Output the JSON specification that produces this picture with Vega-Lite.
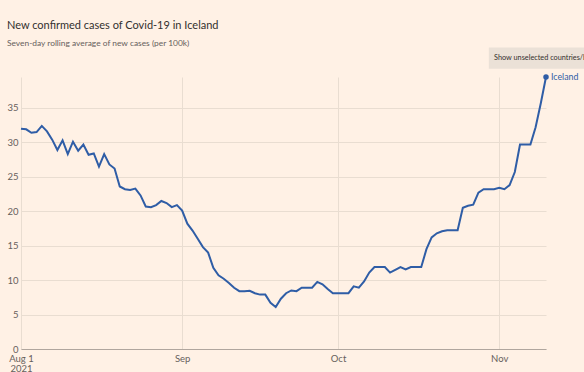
{
  "$schema": "https://vega.github.io/schema/vega-lite/v6.json",
  "width": 525,
  "height": 272,
  "autosize": "none",
  "padding": {"left": 21, "top": 77, "right": 38, "bottom": 23},
  "background": "#fff1e5",
  "title": {
    "text": "New confirmed cases of Covid-19 in Iceland",
    "subtitle": "Seven-day rolling average of new cases (per 100k)",
    "anchor": "start",
    "frame": "group",
    "dx": -14,
    "offset": 0,
    "font": "Lato",
    "fontSize": 11,
    "fontWeight": "normal",
    "color": "#33302e",
    "subtitleFont": "Lato",
    "subtitleFontSize": 8.4,
    "subtitleColor": "#66605c",
    "subtitlePadding": 8
  },
  "config": {"view": {"stroke": null}, "font": "Lato"},
  "data": {
    "values": [
      {"date": "2021-08-01", "value": 32.0},
      {"date": "2021-08-02", "value": 31.9},
      {"date": "2021-08-03", "value": 31.4},
      {"date": "2021-08-04", "value": 31.5},
      {"date": "2021-08-05", "value": 32.4},
      {"date": "2021-08-06", "value": 31.6},
      {"date": "2021-08-07", "value": 30.4},
      {"date": "2021-08-08", "value": 28.9},
      {"date": "2021-08-09", "value": 30.3},
      {"date": "2021-08-10", "value": 28.3},
      {"date": "2021-08-11", "value": 30.1},
      {"date": "2021-08-12", "value": 28.8},
      {"date": "2021-08-13", "value": 29.7},
      {"date": "2021-08-14", "value": 28.2},
      {"date": "2021-08-15", "value": 28.4},
      {"date": "2021-08-16", "value": 26.5},
      {"date": "2021-08-17", "value": 28.3},
      {"date": "2021-08-18", "value": 26.8},
      {"date": "2021-08-19", "value": 26.2},
      {"date": "2021-08-20", "value": 23.6},
      {"date": "2021-08-21", "value": 23.2},
      {"date": "2021-08-22", "value": 23.1},
      {"date": "2021-08-23", "value": 23.3},
      {"date": "2021-08-24", "value": 22.3},
      {"date": "2021-08-25", "value": 20.7},
      {"date": "2021-08-26", "value": 20.6},
      {"date": "2021-08-27", "value": 20.9},
      {"date": "2021-08-28", "value": 21.5},
      {"date": "2021-08-29", "value": 21.2},
      {"date": "2021-08-30", "value": 20.6},
      {"date": "2021-08-31", "value": 20.9},
      {"date": "2021-09-01", "value": 20.1},
      {"date": "2021-09-02", "value": 18.2},
      {"date": "2021-09-03", "value": 17.2},
      {"date": "2021-09-04", "value": 16.0},
      {"date": "2021-09-05", "value": 14.8},
      {"date": "2021-09-06", "value": 14.0},
      {"date": "2021-09-07", "value": 11.8},
      {"date": "2021-09-08", "value": 10.7},
      {"date": "2021-09-09", "value": 10.2},
      {"date": "2021-09-10", "value": 9.6},
      {"date": "2021-09-11", "value": 8.9},
      {"date": "2021-09-12", "value": 8.4},
      {"date": "2021-09-13", "value": 8.4},
      {"date": "2021-09-14", "value": 8.45},
      {"date": "2021-09-15", "value": 8.1},
      {"date": "2021-09-16", "value": 7.9},
      {"date": "2021-09-17", "value": 7.9},
      {"date": "2021-09-18", "value": 6.7},
      {"date": "2021-09-19", "value": 6.1},
      {"date": "2021-09-20", "value": 7.3},
      {"date": "2021-09-21", "value": 8.1},
      {"date": "2021-09-22", "value": 8.5},
      {"date": "2021-09-23", "value": 8.4},
      {"date": "2021-09-24", "value": 8.9},
      {"date": "2021-09-25", "value": 8.9},
      {"date": "2021-09-26", "value": 8.9},
      {"date": "2021-09-27", "value": 9.75},
      {"date": "2021-09-28", "value": 9.4},
      {"date": "2021-09-29", "value": 8.7},
      {"date": "2021-09-30", "value": 8.1},
      {"date": "2021-10-01", "value": 8.1},
      {"date": "2021-10-02", "value": 8.1},
      {"date": "2021-10-03", "value": 8.1},
      {"date": "2021-10-04", "value": 9.1},
      {"date": "2021-10-05", "value": 8.9},
      {"date": "2021-10-06", "value": 9.8},
      {"date": "2021-10-07", "value": 11.1},
      {"date": "2021-10-08", "value": 11.9},
      {"date": "2021-10-09", "value": 11.9},
      {"date": "2021-10-10", "value": 11.9},
      {"date": "2021-10-11", "value": 11.1},
      {"date": "2021-10-12", "value": 11.5},
      {"date": "2021-10-13", "value": 11.9},
      {"date": "2021-10-14", "value": 11.55},
      {"date": "2021-10-15", "value": 11.9},
      {"date": "2021-10-16", "value": 11.9},
      {"date": "2021-10-17", "value": 11.9},
      {"date": "2021-10-18", "value": 14.5},
      {"date": "2021-10-19", "value": 16.2},
      {"date": "2021-10-20", "value": 16.8},
      {"date": "2021-10-21", "value": 17.1},
      {"date": "2021-10-22", "value": 17.25},
      {"date": "2021-10-23", "value": 17.25},
      {"date": "2021-10-24", "value": 17.25},
      {"date": "2021-10-25", "value": 20.5},
      {"date": "2021-10-26", "value": 20.8},
      {"date": "2021-10-27", "value": 20.95},
      {"date": "2021-10-28", "value": 22.7},
      {"date": "2021-10-29", "value": 23.2},
      {"date": "2021-10-30", "value": 23.2},
      {"date": "2021-10-31", "value": 23.2},
      {"date": "2021-11-01", "value": 23.4},
      {"date": "2021-11-02", "value": 23.2},
      {"date": "2021-11-03", "value": 23.8},
      {"date": "2021-11-04", "value": 25.7},
      {"date": "2021-11-05", "value": 29.7},
      {"date": "2021-11-06", "value": 29.7},
      {"date": "2021-11-07", "value": 29.7},
      {"date": "2021-11-08", "value": 32.2},
      {"date": "2021-11-09", "value": 35.7},
      {"date": "2021-11-10", "value": 39.5}
    ]
  },
  "encoding": {
    "x": {
      "field": "date",
      "type": "temporal",
      "scale": {
        "type": "utc",
        "domain": [
          {"year": 2021, "month": 8, "date": 1, "utc": true},
          {"year": 2021, "month": 11, "date": 10, "utc": true}
        ]
      },
      "axis": {
        "title": null,
        "values": [
          {"year": 2021, "month": 8, "date": 1, "utc": true},
          {"year": 2021, "month": 9, "date": 1, "utc": true},
          {"year": 2021, "month": 10, "date": 1, "utc": true},
          {"year": 2021, "month": 11, "date": 1, "utc": true}
        ],
        "labelExpr": "utcmonth(datum.value) == 7 ? ['Aug 1', '2021'] : utcFormat(datum.value, '%b')",
        "grid": true,
        "gridColor": "#e9ddd1",
        "domainColor": "#b0a69e",
        "ticks": false,
        "labelPadding": 4,
        "labelFont": "Lato",
        "labelFontSize": 9.5,
        "labelColor": "#66605c",
        "labelLineHeight": 10,
        "labelFlush": false
      }
    },
    "y": {
      "field": "value",
      "type": "quantitative",
      "scale": {"domain": [0, 39.5], "nice": false},
      "axis": {
        "title": null,
        "values": [0, 5, 10, 15, 20, 25, 30, 35],
        "grid": true,
        "gridColor": "#e9ddd1",
        "domain": false,
        "ticks": false,
        "labelPadding": 3,
        "labelFont": "Lato",
        "labelFontSize": 9.5,
        "labelColor": "#66605c"
      }
    }
  },
  "layer": [
    {
      "transform": [{"filter": "datum.value >= 39.5"}],
      "mark": {"type": "rect", "color": "#ebe1d7", "clip": false},
      "encoding": {
        "x": {"datum": {"year": 2021, "month": 10, "date": 30, "utc": true}},
        "x2": {"datum": {"year": 2021, "month": 11, "date": 25, "utc": true}},
        "y": {"datum": 40.7},
        "y2": {"datum": 43.8}
      }
    },
    {
      "transform": [{"filter": "datum.value >= 39.5"}],
      "mark": {"type": "text", "align": "left", "baseline": "middle", "fontSize": 7.3, "color": "#33302e", "clip": false},
      "encoding": {
        "x": {"datum": {"year": 2021, "month": 10, "date": 31, "utc": true}},
        "y": {"datum": 42.25},
        "text": {"value": "Show unselected countries/b"}
      }
    },
    {
      "mark": {"type": "line", "color": "#2f5da6", "strokeWidth": 2}
    },
    {
      "transform": [{"filter": "datum.value >= 39.5"}],
      "mark": {"type": "point", "filled": true, "color": "#2f5da6", "size": 30, "opacity": 1}
    },
    {
      "transform": [{"filter": "datum.value >= 39.5"}],
      "mark": {"type": "text", "align": "left", "dx": 5, "baseline": "middle", "fontSize": 8.8, "color": "#2f5da6"},
      "encoding": {"text": {"value": "Iceland"}}
    }
  ]
}
